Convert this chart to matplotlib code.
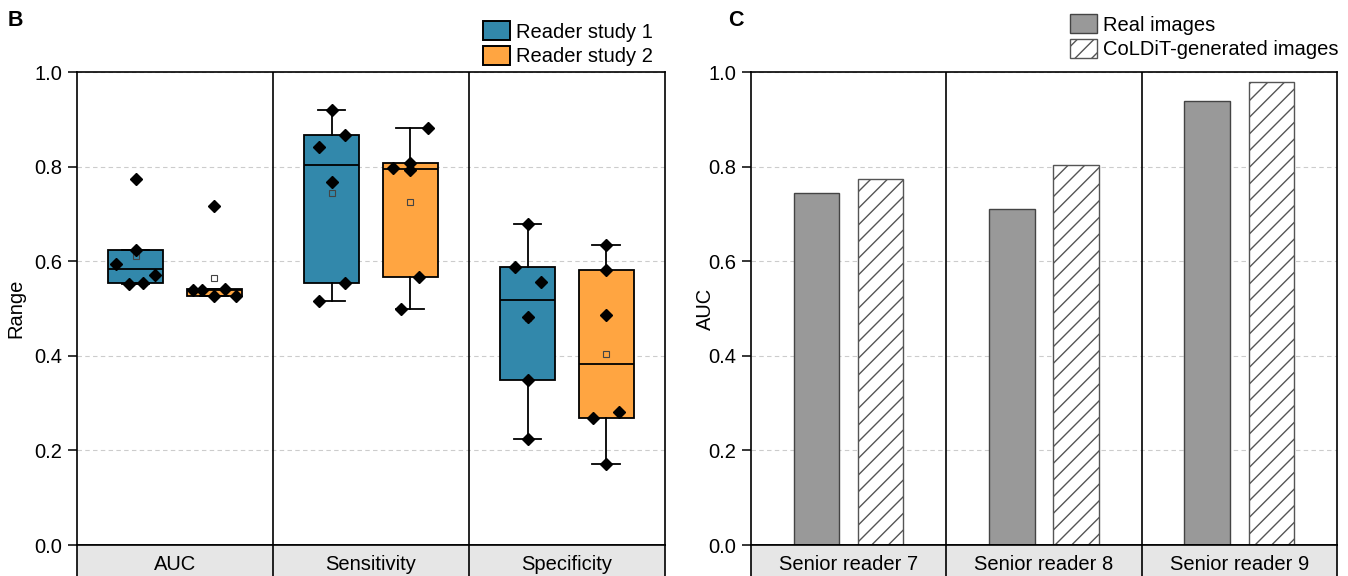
import numpy as np
import matplotlib
matplotlib.use("Agg")
import matplotlib.pyplot as plt
from matplotlib.patches import Patch

plt.rcParams["font.family"] = ["Liberation Sans", "DejaVu Sans"]
plt.rcParams["font.size"] = 14.5

# ---- panel B: reader study metrics (six readers each)
metrics = ["AUC", "Sensitivity", "Specificity"]
study1 = [
    [0.774, 0.624, 0.594, 0.571, 0.552, 0.554],
    [0.920, 0.867, 0.841, 0.767, 0.554, 0.516],
    [0.679, 0.588, 0.556, 0.482, 0.349, 0.224],
]
study2 = [
    [0.539, 0.539, 0.526, 0.541, 0.526, 0.717],
    [0.882, 0.808, 0.797, 0.793, 0.567, 0.499],
    [0.634, 0.581, 0.486, 0.268, 0.281, 0.171],
]
# sideways spread of the dots inside each box
jitter1 = [[0, 0, -0.1, 0.1, -0.035, 0.035],
           [0, 0.066, -0.066, 0, 0.066, -0.066],
           [0, -0.066, 0.066, 0, 0, 0]]
jitter2 = [[-0.11, -0.06, 0, 0.055, 0.11, 0],
           [0.09, 0, -0.09, 0, 0.045, -0.045],
           [0, 0, 0, -0.066, 0.066, 0]]

# ---- panel C: senior readers
readers = ["Senior reader 7", "Senior reader 8", "Senior reader 9"]
auc_real = [0.745, 0.710, 0.939]
auc_coldit = [0.774, 0.804, 0.979]

BLUE = "#3288ab"
ORANGE = "#ffa541"
STRIP = "#e6e6e6"


def tukey_stats(vals):
    v = np.sort(np.asarray(vals))
    n = len(v)
    half = (n + 1) // 2
    q1 = np.median(v[:half])
    q3 = np.median(v[n - half:])
    iqr = q3 - q1
    return dict(med=np.median(v), q1=q1, q3=q3, mean=v.mean(),
                whislo=v[v >= q1 - 1.5 * iqr].min(),
                whishi=v[v <= q3 + 1.5 * iqr].max(), fliers=[])


def style_axis(ax, ncat):
    ax.set_xlim(-0.5, ncat - 0.5)
    ax.set_ylim(0, 1)
    ax.set_yticks(np.arange(0, 1.01, 0.2))
    ax.set_xticks([])
    ax.tick_params(axis="y", direction="out", length=6.5, width=1.1, pad=4)
    ax.yaxis.grid(True, linestyle=(0, (4, 3)), color="#cccccc", lw=0.8)
    ax.set_axisbelow(True)
    for s in ax.spines.values():
        s.set_linewidth(1.2)
    for k in range(1, ncat):
        ax.axvline(k - 0.5, color="black", lw=1.2)


def add_strip(rect, labels):
    sx = fig.add_axes(rect)
    sx.set_facecolor(STRIP)
    sx.set_xlim(-0.5, len(labels) - 0.5)
    sx.set_ylim(0, 1)
    sx.set_xticks([])
    sx.set_yticks([])
    for s in sx.spines.values():
        s.set_linewidth(1.2)
    sx.spines["bottom"].set_visible(False)
    for k in range(1, len(labels)):
        sx.axvline(k - 0.5, color="black", lw=1.2)
    for i, lab in enumerate(labels):
        sx.text(i, 0.36, lab, ha="center", va="center")


fig = plt.figure(figsize=(13.48, 5.76), dpi=100)
leg_kw = dict(loc="upper left", frameon=False, borderpad=0, borderaxespad=0,
              handlelength=1.35, handleheight=1.1, handletextpad=0.3,
              labelspacing=0.2)

# ================= panel B
axB = fig.add_axes([0.0571, 0.0538, 0.4362, 0.8212])
style_axis(axB, len(metrics))
pos = np.arange(len(metrics))
for data, jit, col, off in [(study1, jitter1, BLUE, -0.2), (study2, jitter2, ORANGE, 0.2)]:
    stats = [tukey_stats(d) for d in data]
    axB.bxp(stats, positions=pos + off, widths=0.28, patch_artist=True,
            showmeans=True, showfliers=False, capwidths=0.14,
            boxprops=dict(facecolor=col, edgecolor="black", lw=1.3),
            medianprops=dict(color="black", lw=1.3),
            whiskerprops=dict(color="black", lw=1.3),
            capprops=dict(color="black", lw=1.3),
            meanprops=dict(marker="s", markersize=4.5, markerfacecolor="none",
                           markeredgecolor="#444444", markeredgewidth=0.8),
            manage_ticks=False, zorder=2)
    for i, d in enumerate(data):
        axB.plot(i + off + np.asarray(jit[i]), d, "D", color="black",
                 markersize=6, zorder=4, clip_on=False)
axB.set_ylabel("Range")
axB.yaxis.set_label_coords(-0.088, 0.5)
add_strip([0.0571, 0.0, 0.4362, 0.0538], metrics)

fig.legend(handles=[Patch(facecolor=BLUE, edgecolor="black", lw=1.4),
                    Patch(facecolor=ORANGE, edgecolor="black", lw=1.4)],
           labels=["Reader study 1", "Reader study 2"],
           bbox_to_anchor=(483 / 1348, 1 - 21 / 576), **leg_kw)
fig.text(8 / 1348, 1 - 20 / 576, "B", fontsize=15.5, fontweight="bold",
         ha="left", va="center")

# ================= panel C
axC = fig.add_axes([0.5571, 0.0538, 0.4347, 0.8212])
style_axis(axC, len(readers))
x = np.arange(len(readers))
axC.bar(x - 0.164, auc_real, width=0.233, color="#999999",
        edgecolor="#444444", lw=1.0, zorder=2)
axC.bar(x + 0.164, auc_coldit, width=0.233, color="white",
        edgecolor="#555555", lw=1.0, hatch="//", zorder=2)
axC.set_ylabel("AUC")
axC.yaxis.set_label_coords(-0.062, 0.5)
add_strip([0.5571, 0.0, 0.4347, 0.0538], readers)

fig.legend(handles=[Patch(facecolor="#999999", edgecolor="#444444", lw=1.0),
                    Patch(facecolor="white", edgecolor="#555555", lw=1.0, hatch="//")],
           labels=["Real images", "CoLDiT-generated images"],
           bbox_to_anchor=(1070 / 1348, 1 - 14 / 576), **leg_kw)
fig.text(728 / 1348, 1 - 20 / 576, "C", fontsize=15.5, fontweight="bold",
         ha="left", va="center")

fig.savefig("out.png", dpi=100)
